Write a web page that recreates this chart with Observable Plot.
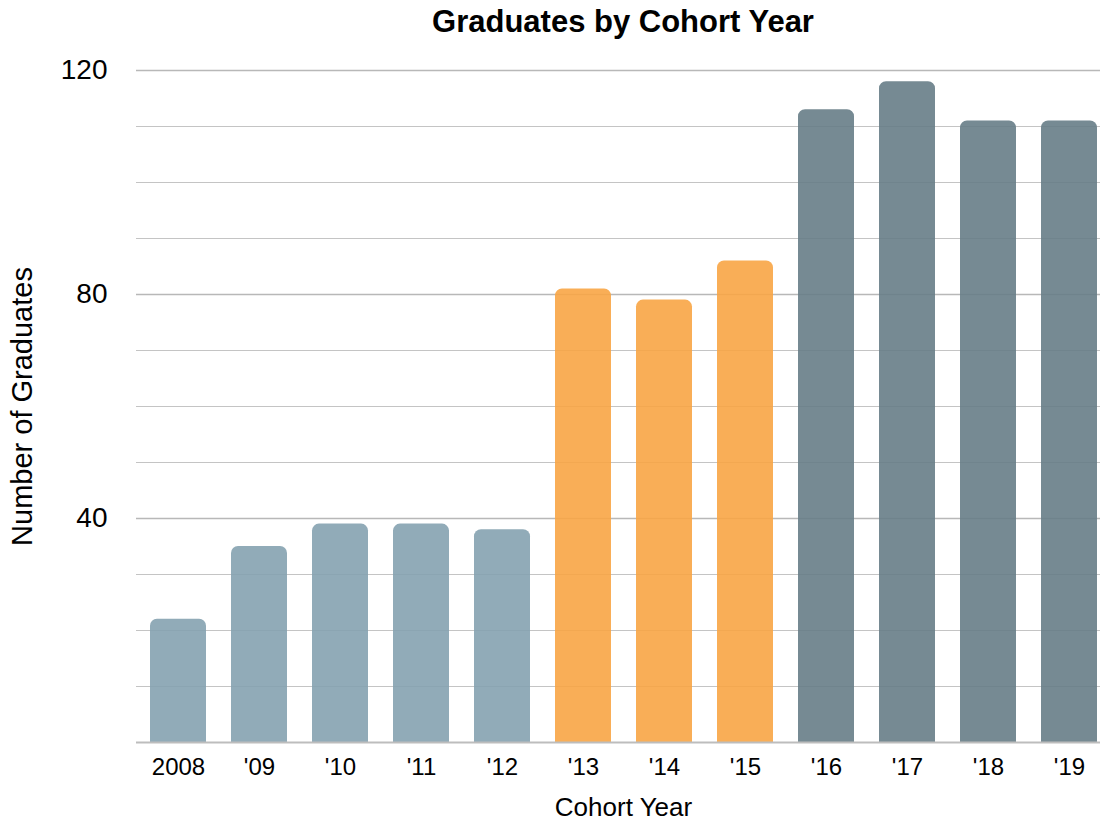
<!DOCTYPE html>
<html>
<head>
<meta charset="utf-8">
<script src="https://cdn.jsdelivr.net/npm/d3@7"></script>
<script src="https://cdn.jsdelivr.net/npm/@observablehq/plot@0.6"></script>
<style>
  html, body { margin: 0; padding: 0; background: #ffffff; }
  #title {
    box-sizing: border-box;
    width: 1103px;
    height: 44px;
    line-height: 44px;
    padding-left: 143px;
    text-align: center;
    font-family: "Liberation Sans", Arial, Helvetica, sans-serif;
    font-weight: bold;
    font-size: 31px;
    color: #000;
  }
</style>
</head>
<body>
<div id="title">Graduates by Cohort Year</div>
<div id="chart"></div>
<script>
// ---- data ----
const cohortYears = ["2008", "'09", "'10", "'11", "'12", "'13", "'14", "'15", "'16", "'17", "'18", "'19"];
const graduates = [22, 35, 39, 39, 38, 81, 79, 86, 113, 118, 111, 111];
const groups = ["early", "early", "early", "early", "early", "middle", "middle", "middle", "late", "late", "late", "late"];
const groupDomain = ["early", "middle", "late"];
const groupColors = ["#85a2b0", "#f8a545", "#677d87"];
const majorTicks = [40, 80, 120];
const minorTicks = [10, 20, 30, 50, 60, 70, 90, 100, 110];

const data = cohortYears.map((year, i) => ({year, value: graduates[i], group: groups[i]}));

const chart = Plot.plot({
  width: 1103,
  height: 780,
  marginTop: 26,
  marginLeft: 136,
  marginRight: 3,
  marginBottom: 82,
  style: {fontFamily: "'Liberation Sans', Arial, Helvetica, sans-serif", background: "#ffffff", color: "#000", overflow: "visible"},
  x: {domain: cohortYears, range: [149, 1098], paddingInner: 0.31, paddingOuter: 0, label: null},
  y: {domain: [0, 120], label: null},
  color: {domain: groupDomain, range: groupColors},
  marks: [
    Plot.ruleY(minorTicks, {stroke: "#c4c4c4", strokeWidth: 1}),
    Plot.ruleY(majorTicks, {stroke: "#b8b8b8", strokeWidth: 1.6}),
    Plot.barY(data, {x: "year", y: "value", fill: "group", fillOpacity: 0.9, ry1: 7}),
    Plot.ruleY([0], {stroke: "#bdbdbd", strokeWidth: 2}),
    Plot.axisY({ticks: majorTicks, tickSize: 0, tickPadding: 29, fontSize: 28, label: null}),
    Plot.axisX({tickSize: 0, tickPadding: 15, fontSize: 24, label: null}),
    Plot.text(["Cohort Year"], {frameAnchor: "bottom", dy: 65, dx: 5, fontSize: 26, lineAnchor: "middle", textAnchor: "middle", text: d => d}),
    Plot.text(["Number of Graduates"], {frameAnchor: "left", dx: -114, rotate: -90, fontSize: 29, lineAnchor: "middle", textAnchor: "middle", text: d => d})
  ]
});
document.getElementById("chart").append(chart);
</script>
</body>
</html>
